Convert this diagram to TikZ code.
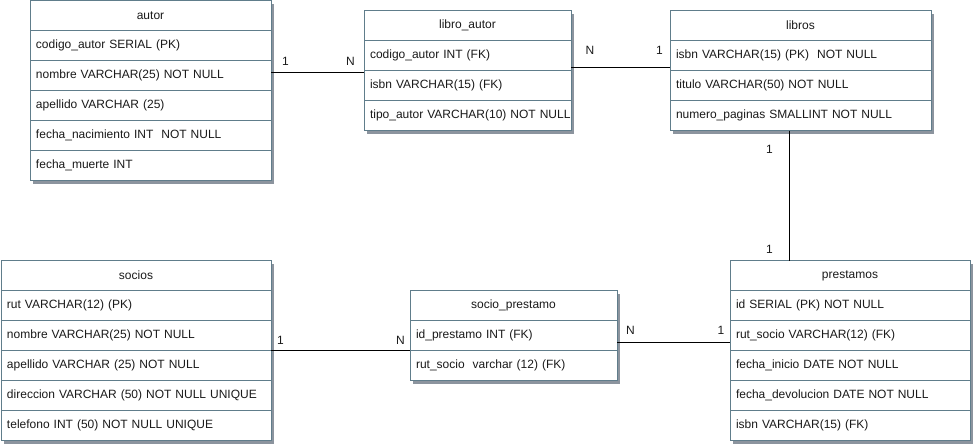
\documentclass[tikz,border=0pt]{standalone}
\usepackage{fontspec}
\setmainfont{Liberation Sans}
\usetikzlibrary{shadows}

\definecolor{c607d8b}{RGB}{96,125,139}
\definecolor{c8c949e}{RGB}{140,148,158}
\definecolor{c1a1a1a}{RGB}{26,26,26}

\tikzset{
  tablehead/.style={draw=c607d8b, fill=white, line width=0.75pt, anchor=north west,
    minimum height=22.5pt, inner xsep=4.5pt, inner ysep=0pt, outer sep=0pt,
    text width=#1-9pt, align=center, text=c1a1a1a,
    execute at begin node={\hbox\bgroup}, execute at end node={\egroup},
    drop shadow={shadow xshift=2.25pt, shadow yshift=-2.25pt, fill=c8c949e, opacity=1}},
  tablerow/.style={tablehead=#1, align=left},
  link/.style={draw=black, line width=0.75pt},
  card/.style={text=c1a1a1a, inner sep=0pt}
}

\begin{document}
\begin{tikzpicture}[x=0.75pt, y=-0.75pt, font=\fontsize{9}{11}\selectfont]
  \useasboundingbox (0,0) rectangle (974,446);

  % autor
  \node[tablehead=180.75pt] (autor) at (30,0.5) {autor};
  \node[tablerow=180.75pt] (autor1) at (autor.south west) {codigo\_autor SERIAL (PK)};
  \node[tablerow=180.75pt] (autor2) at (autor1.south west) {nombre VARCHAR(25) NOT NULL};
  \node[tablerow=180.75pt] (autor3) at (autor2.south west) {apellido VARCHAR (25)};
  \node[tablerow=180.75pt] (autor4) at (autor3.south west) {fecha\_nacimiento INT\ \ NOT NULL};
  \node[tablerow=180.75pt] (autor5) at (autor4.south west) {fecha\_muerte INT};

  % libro_autor
  \node[tablehead=155.25pt] (libroautor) at (364,10.5) {libro\_autor};
  \node[tablerow=155.25pt] (libroautor1) at (libroautor.south west) {codigo\_autor INT (FK)};
  \node[tablerow=155.25pt] (libroautor2) at (libroautor1.south west) {isbn VARCHAR(15) (FK)};
  \node[tablerow=155.25pt] (libroautor3) at (libroautor2.south west) {tipo\_autor VARCHAR(10) NOT NULL};

  % libros
  \node[tablehead=195.75pt] (libros) at (670,10.5) {libros};
  \node[tablerow=195.75pt] (libros1) at (libros.south west) {isbn VARCHAR(15) (PK)\ \ NOT NULL};
  \node[tablerow=195.75pt] (libros2) at (libros1.south west) {titulo VARCHAR(50) NOT NULL};
  \node[tablerow=195.75pt] (libros3) at (libros2.south west) {numero\_paginas SMALLINT NOT NULL};

  % socios
  \node[tablehead=202.5pt] (socios) at (1,260.5) {socios};
  \node[tablerow=202.5pt] (socios1) at (socios.south west) {rut VARCHAR(12) (PK)};
  \node[tablerow=202.5pt] (socios2) at (socios1.south west) {nombre VARCHAR(25) NOT NULL};
  \node[tablerow=202.5pt] (socios3) at (socios2.south west) {apellido VARCHAR (25) NOT NULL};
  \node[tablerow=202.5pt] (socios4) at (socios3.south west) {direccion VARCHAR (50) NOT NULL UNIQUE};
  \node[tablerow=202.5pt] (socios5) at (socios4.south west) {telefono INT (50) NOT NULL UNIQUE};

  % socio_prestamo
  \node[tablehead=155.25pt] (socioprestamo) at (410,290.5) {socio\_prestamo};
  \node[tablerow=155.25pt] (socioprestamo1) at (socioprestamo.south west) {id\_prestamo INT (FK)};
  \node[tablerow=155.25pt] (socioprestamo2) at (socioprestamo1.south west) {rut\_socio\ \ varchar (12) (FK)};

  % prestamos
  \node[tablehead=180pt] (prestamos) at (730,260.5) {prestamos};
  \node[tablerow=180pt] (prestamos1) at (prestamos.south west) {id SERIAL (PK) NOT NULL};
  \node[tablerow=180pt] (prestamos2) at (prestamos1.south west) {rut\_socio VARCHAR(12) (FK)};
  \node[tablerow=180pt] (prestamos3) at (prestamos2.south west) {fecha\_inicio DATE NOT NULL};
  \node[tablerow=180pt] (prestamos4) at (prestamos3.south west) {fecha\_devolucion DATE NOT NULL};
  \node[tablerow=180pt] (prestamos5) at (prestamos4.south west) {isbn VARCHAR(15) (FK)};

  % relations
  \draw[link] ([yshift=1.9pt]autor2.east) coordinate (rel1) -- (rel1 -| libroautor.west);
  \draw[link] ([yshift=1.9pt]libroautor2.north east) coordinate (rel2) -- (rel2 -| libros.west);
  \draw[link] ([xshift=-7.9pt]libros3.south) coordinate (rel3) -- (rel3 |- prestamos.north);
  \draw[link] (socios2.south east) -- (socioprestamo1.south west);
  \draw[link] ([yshift=-4.9pt]socioprestamo1.east) coordinate (rel5) -- (rel5 -| prestamos.west);

  % cardinalities
  \node[card] (card1a) at (285.5,61) {1};
  \node[card] (card1b) at (350.5,61) {N};
  \node[card] (card2a) at (590,50.5) {N};
  \node[card] (card2b) at (659.5,50.5) {1};
  \node[card] (card3a) at (769.5,149.5) {1};
  \node[card] (card3b) at (769.5,249.5) {1};
  \node[card] (card4a) at (280.5,340.5) {1};
  \node[card] (card4b) at (400.5,340.5) {N};
  \node[card] (card5a) at (630.5,330) {N};
  \node[card] (card5b) at (721,330) {1};
\end{tikzpicture}
\end{document}
